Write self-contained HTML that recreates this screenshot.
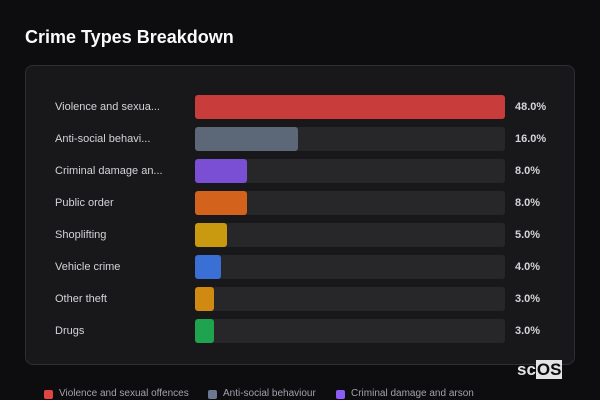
<!DOCTYPE html>
<html><head><meta charset="utf-8"><style>
*{margin:0;padding:0;box-sizing:border-box}
body{width:600px;height:400px;background:#0d0d10;font-family:"Liberation Sans","DejaVu Sans",sans-serif;position:relative;overflow:hidden;color:#e4e4e7}
h1{position:absolute;left:25px;top:27px;font-size:18px;font-weight:bold;color:#fafafa}
.panel{position:absolute;left:25px;top:65px;width:550px;height:300px;background:#18181b;border:1px solid #2e2e33;border-radius:8px}
.row{position:absolute;left:0;width:600px;height:24px}
.lab{position:absolute;left:55px;top:6px;font-size:11px;color:#d4d4d8}
.track{position:absolute;left:195px;top:0;width:310px;height:24px;background:#27272a;border-radius:3px}
.bar{position:absolute;left:0;top:0;height:24px;border-radius:3px}
.pct{position:absolute;left:515px;top:6px;font-size:11px;font-weight:bold;color:#d4d4d8}
.leg{position:absolute;top:388px;font-size:10px;color:#a1a1aa}
.sw{position:absolute;top:390px;width:9px;height:9px;border-radius:2px}
.logo{position:absolute;left:517px;top:360px;font-size:17px;font-weight:bold;color:#e4e4e7}
.logo span{background:#e4e4e7;color:#0d0d10;padding:0 1px}
</style></head><body>
<h1>Crime Types Breakdown</h1>
<div class="panel"></div>
<div class="row" style="top:95px"><div class="lab">Violence and sexua...</div><div class="track"><div class="bar" style="width:310px;background:#c93c3c"></div></div><div class="pct">48.0%</div></div>
<div class="row" style="top:127px"><div class="lab">Anti-social behavi...</div><div class="track"><div class="bar" style="width:103px;background:#5c6777"></div></div><div class="pct">16.0%</div></div>
<div class="row" style="top:159px"><div class="lab">Criminal damage an...</div><div class="track"><div class="bar" style="width:52px;background:#7a4fd4"></div></div><div class="pct">8.0%</div></div>
<div class="row" style="top:191px"><div class="lab">Public order</div><div class="track"><div class="bar" style="width:52px;background:#d2621c"></div></div><div class="pct">8.0%</div></div>
<div class="row" style="top:223px"><div class="lab">Shoplifting</div><div class="track"><div class="bar" style="width:32px;background:#c99a10"></div></div><div class="pct">5.0%</div></div>
<div class="row" style="top:255px"><div class="lab">Vehicle crime</div><div class="track"><div class="bar" style="width:26px;background:#3a6fd6"></div></div><div class="pct">4.0%</div></div>
<div class="row" style="top:287px"><div class="lab">Other theft</div><div class="track"><div class="bar" style="width:19px;background:#d08a12"></div></div><div class="pct">3.0%</div></div>
<div class="row" style="top:319px"><div class="lab">Drugs</div><div class="track"><div class="bar" style="width:19px;background:#1fa34f"></div></div><div class="pct">3.0%</div></div>
<div class="logo">sc<span>OS</span></div>
<div class="sw" style="left:44px;background:#e04444"></div><div class="leg" style="left:59px">Violence and sexual offences</div>
<div class="sw" style="left:208px;background:#6b7890"></div><div class="leg" style="left:223px">Anti-social behaviour</div>
<div class="sw" style="left:336px;background:#8b5cf6"></div><div class="leg" style="left:351px">Criminal damage and arson</div>
</body></html>
